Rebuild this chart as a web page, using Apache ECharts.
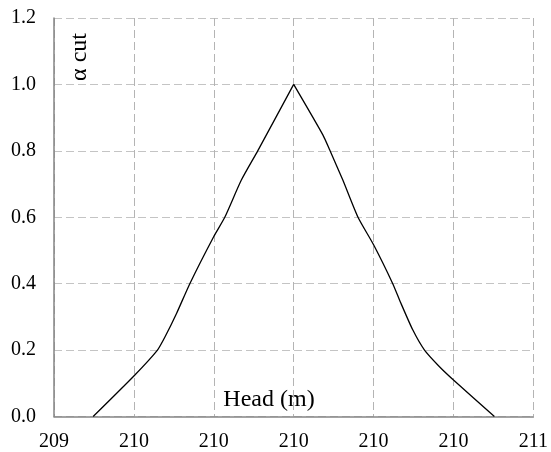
<!DOCTYPE html>
<html>
<head>
<meta charset="utf-8">
<script src="https://cdn.jsdelivr.net/npm/echarts@6/dist/echarts.min.js"></script>
<style>
html,body{margin:0;padding:0;background:#fff;}
#chart{width:551px;height:452px;}
</style>
</head>
<body>
<div id="chart"></div>
<script>
// Left branch (rising) of the fuzzy membership curve
var leftHead  = [209.498, 209.60, 209.659, 209.678, 209.707, 209.74, 209.80, 209.8275, 209.869, 209.91, 210.0];
var leftAlpha = [0, 0.122, 0.2, 0.24, 0.311, 0.4, 0.542, 0.6, 0.712, 0.8, 1.0];
// Right branch (falling)
var rightHead  = [210.0, 210.073, 210.09, 210.123, 210.161, 210.2, 210.248, 210.267, 210.298, 210.3275, 210.365, 210.4, 210.5025];
var rightAlpha = [1.0, 0.848, 0.803, 0.712, 0.6, 0.517, 0.4, 0.345, 0.261, 0.2, 0.15, 0.11, 0];

var xAxisName = 'Head (m)';
var yAxisName = 'α cut';

function pairs(xs, ys){ return xs.map(function(x,i){ return [x, ys[i]]; }); }

var FONT = '"Liberation Serif", "DejaVu Serif", serif';
var chart = echarts.init(document.getElementById('chart'), null, {renderer:'canvas'});
chart.setOption({
  animation: false,
  backgroundColor: '#fff',
  grid: {left: 54, right: 17, top: 18, bottom: 35.5, containLabel: false},
  xAxis: {
    type: 'value', min: 209.4, max: 210.6, interval: 0.2,
    axisLine: {show: true, onZero: false, lineStyle: {color: '#858585', width: 1.5}},
    axisTick: {show: false},
    axisLabel: {margin: 15, color: '#000', fontFamily: FONT, fontSize: 20,
      formatter: function(v){ return String(Math.round(v)); }},
    splitLine: {show: true, lineStyle: {color: '#b4b4b4', type: [8, 4], width: 1}}
  },
  yAxis: {
    type: 'value', min: 0, max: 1.2, interval: 0.2,
    axisLine: {show: true, onZero: false, lineStyle: {color: '#858585', width: 1.5}},
    axisTick: {show: false},
    axisLabel: {margin: 18, color: '#000', fontFamily: FONT, fontSize: 20,
      formatter: function(v){ return v.toFixed(1); }},
    splitLine: {show: true, lineStyle: {color: '#c4c4c4', type: [8, 4], width: 1}}
  },
  graphic: [
    {type: 'text', x: 269, y: 400, style: {text: xAxisName, fill: '#000', font: '24px ' + FONT, align: 'center', verticalAlign: 'middle'}},
    {type: 'text', x: 80, y: 57, rotation: Math.PI/2, style: {text: yAxisName, fill: '#000', font: '24px ' + FONT, align: 'center', verticalAlign: 'middle'}}
  ],
  series: [
    {type: 'line', data: pairs(leftHead, leftAlpha), smooth: 0.2, symbol: 'none',
     lineStyle: {color: '#000', width: 1.3}},
    {type: 'line', data: pairs(rightHead, rightAlpha), smooth: 0.2, symbol: 'none',
     lineStyle: {color: '#000', width: 1.3}}
  ]
});
</script>
</body>
</html>
